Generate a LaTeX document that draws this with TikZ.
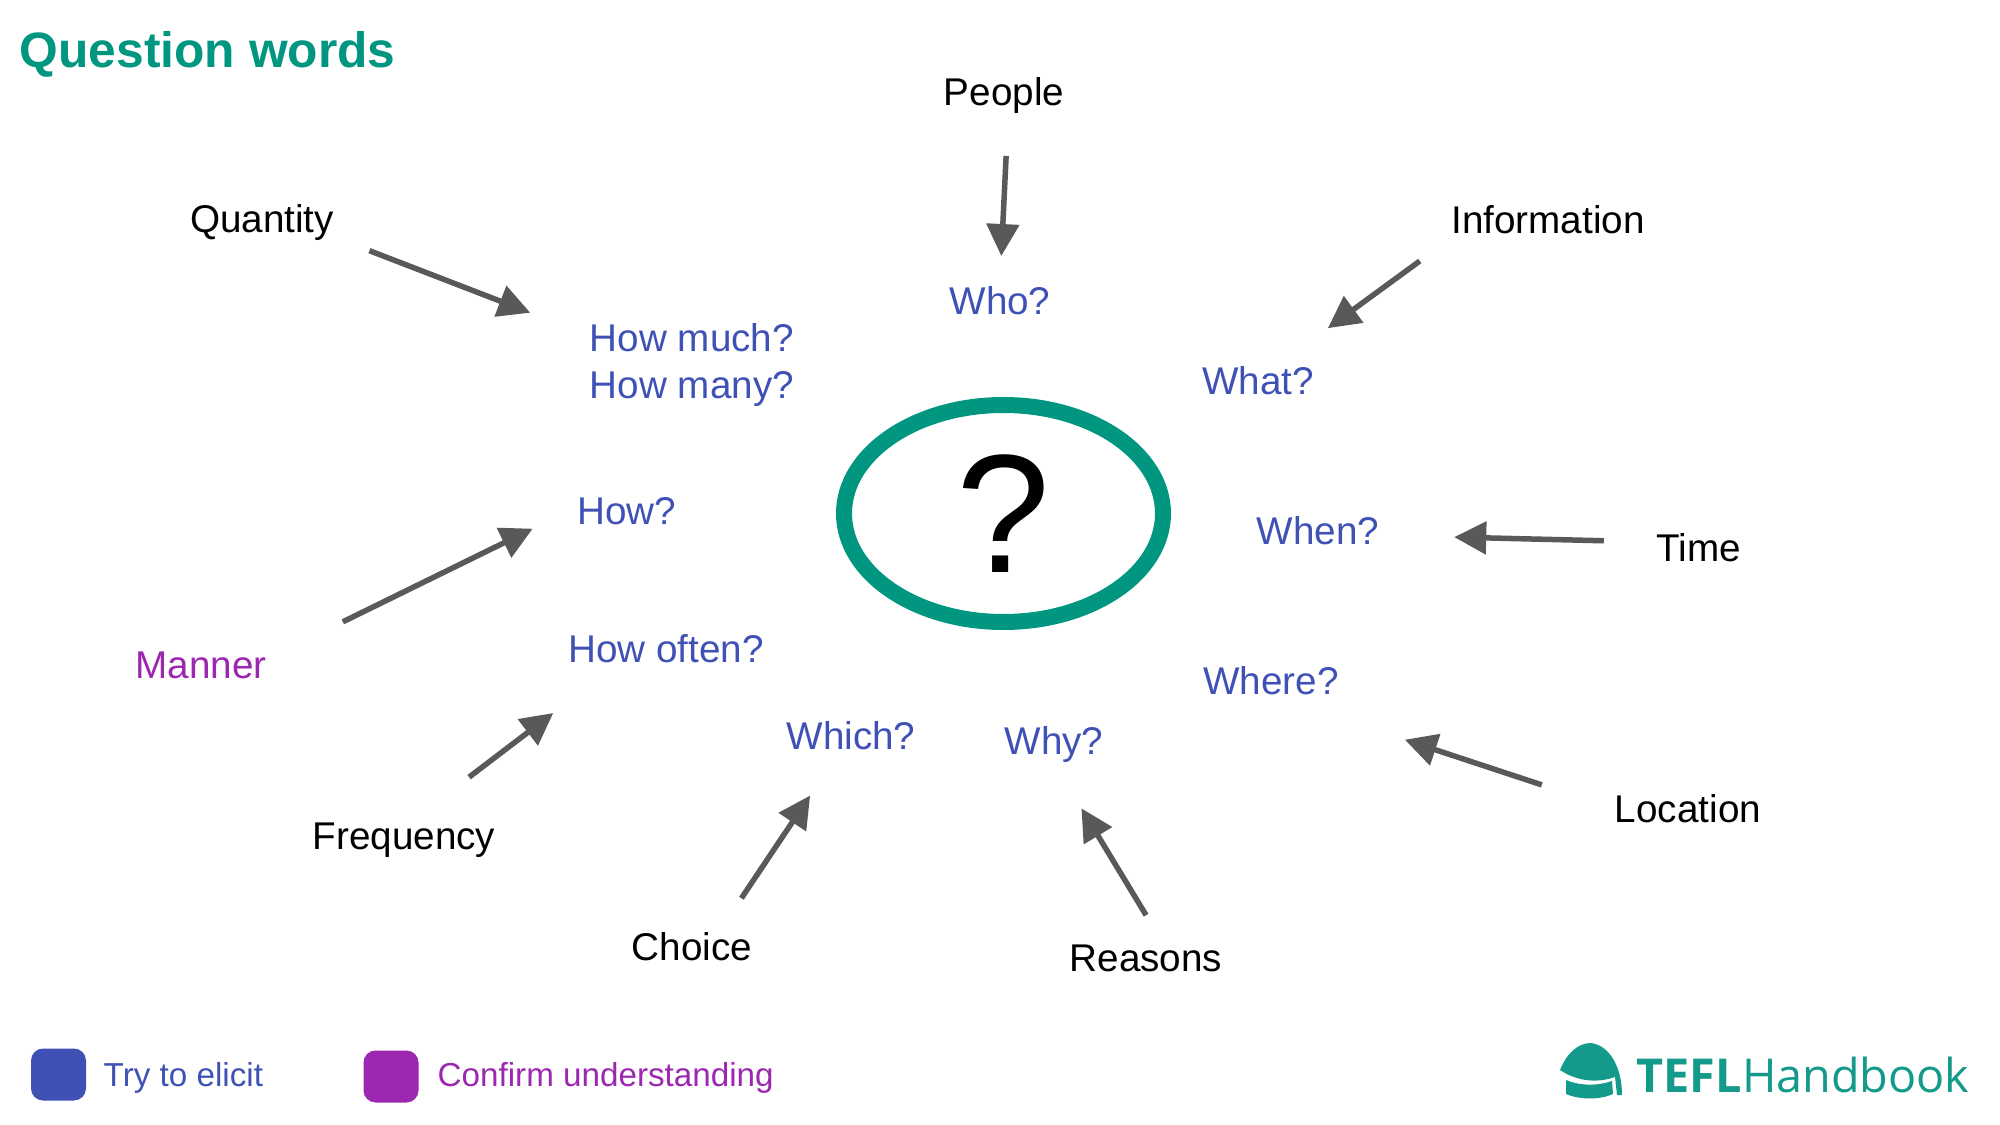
\documentclass[tikz,border=0pt]{standalone}
\usepackage{fontspec}
\setmainfont{Liberation Sans}
\newfontfamily\logofont{Open Sans}
\usetikzlibrary{arrows.meta,shapes.geometric}
\definecolor{tealmark}{HTML}{00967F}
\definecolor{tealbrand}{HTML}{139A8A}
\definecolor{elicitblue}{HTML}{3F51B5}
\definecolor{confirmpurple}{HTML}{9C27B0}
\definecolor{pointergray}{HTML}{595959}
\tikzset{
	wordtext/.style={inner sep=0pt,outer sep=0pt,minimum height=3.6mm,align=left,font=\fontsize{11}{13.1}\selectfont},
	pointer/.style={draw=pointergray,line width=.55mm,-{Triangle[length=3.2mm,width=3.2mm]}},
	swatch/.style={rounded corners=1.2mm,minimum width=5.5mm,minimum height=5.2mm,inner sep=0pt},
	keytext/.style={inner sep=0pt,anchor=west,font=\fontsize{9.45}{11}\selectfont},
}
\begin{document}
\begin{tikzpicture}[x=.1mm,y=-.1mm]
\useasboundingbox (0,0) rectangle (2000,1125);
\node[inner sep=0pt,anchor=west,text=tealmark,font=\fontsize{14.15}{17}\selectfont\bfseries] (title) at (19,54) {Question words};
% Draw centre mark
\node[ellipse,draw=tealmark,line width=1.6mm,minimum width=31.9mm,minimum height=21.7mm,inner sep=0pt,outer sep=0pt,font=\fontsize{48}{48}\selectfont] (mark) at (1003.5,513.5) {?};
% Draw question words
\foreach \name/\x/\y/\txt in {who/1000/301/Who?,howmuch/692/365/{How much?\\How many?},what/1258/381/What?,how/627/511/How?,
	when/1318/531/When?,howoften/666/649/How often?,where/1271/681/Where?,which/851/736/Which?,why/1054/745/Why?} {
	\node[wordtext,text=elicitblue] (\name) at (\x,\y) {\txt};
}
% Draw topics
\foreach \name/\x/\y/\txt in {people/1004/96/People,quantity/262/223/Quantity,information/1548/220/Information,time/1699/548/Time,
	frequency/404/840/Frequency,location/1688/809/Location,choice/692/947/Choice,reasons/1146/958/Reasons} {
	\node[wordtext] (\name) at (\x,\y) {\txt};
}
\node[wordtext,text=confirmpurple] (manner) at (201,665) {Manner};
% Draw arrows
\foreach \a/\b/\s/\e in {people.-77/who.north/4.2/2.7,quantity.-11/howmuch.164/3.8/6.4,
	information.south west/what.39/3.9/5.9,time.172/when.-4/5.3/7.5,manner.5/how.175/8.5/5,
	frequency.71/howoften.199/7.4/7.6,choice.32/which.234/3.7/5,reasons.50/why.south/2.9/5.3,
	location.west/where.-60/7.7/13} {
	\draw[pointer,shorten <=\s mm,shorten >=\e mm] (\a) -- (\b);
}
% Draw key
\node[swatch,fill=elicitblue] (elicitbox) at (58.5,1074.5) {};
\node[keytext,text=elicitblue] (elicitkey) at (103,1078) {Try to elicit};
\node[swatch,fill=confirmpurple] (confirmbox) at (391,1076.5) {};
\node[keytext,text=confirmpurple] (confirmkey) at (437,1078) {Confirm understanding};
% Draw logo
\fill[tealbrand] (1560,1070) .. controls (1567,1053) and (1578,1043) .. (1591,1043) .. controls (1608,1045) and (1622,1065) .. (1622,1095)
	-- (1617,1095) -- (1615,1077) .. controls (1598,1083) and (1578,1082) .. cycle;
\fill[tealbrand] (1566,1080) -- (1566,1094) .. controls (1580,1100) and (1600,1100) .. (1613,1094)
	-- (1612,1081) .. controls (1598,1086) and (1580,1086) .. cycle;
\node[inner sep=0pt,anchor=base west,text=tealbrand,font=\logofont\fontsize{13.3}{16}\selectfont] (logo) at (1636,1092) {\textbf{TEFL}Handbook};
\end{tikzpicture}
\end{document}
